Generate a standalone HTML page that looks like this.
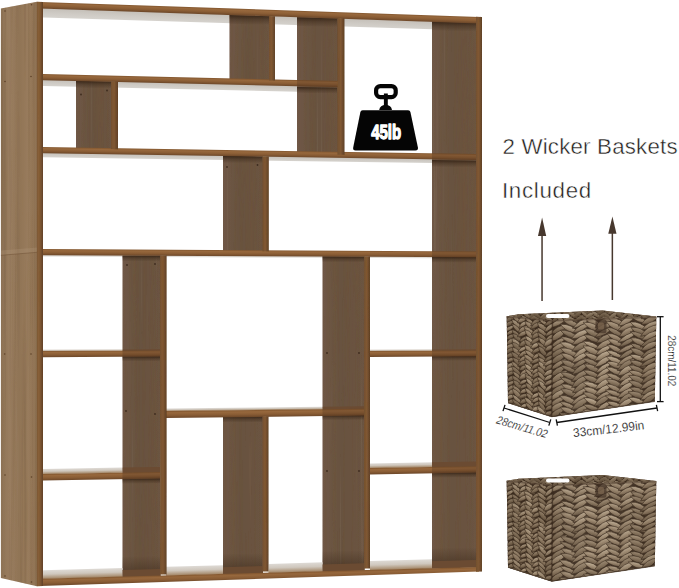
<!DOCTYPE html>
<html><head><meta charset="utf-8"><title>Bookshelf with 2 wicker baskets</title>
<style>
html,body{margin:0;padding:0;background:#fff;}
body{width:679px;height:588px;overflow:hidden;position:relative;font-family:"Liberation Sans",sans-serif;}
svg{position:absolute;left:0;top:0;display:block;}
.t{position:absolute;white-space:nowrap;color:#211c19;-webkit-text-stroke:0.42px #fff;font-family:"Liberation Sans",sans-serif;font-size:22.3px;line-height:1;transform-origin:0 0;}
</style></head><body>
<svg width="679" height="588" viewBox="0 0 679 588">
<defs>
<linearGradient id="gEdge" x1="0" y1="0" x2="1" y2="0"><stop offset="0" stop-color="#74502f"/><stop offset="0.45" stop-color="#815833"/><stop offset="1" stop-color="#5f4027"/></linearGradient>
<linearGradient id="gEdgeL" x1="0" y1="0" x2="1" y2="0"><stop offset="0" stop-color="#8d653c"/><stop offset="0.5" stop-color="#815934"/><stop offset="1" stop-color="#614128"/></linearGradient>
<linearGradient id="gEdgeH" x1="0" y1="0" x2="0" y2="1"><stop offset="0" stop-color="#82562e"/><stop offset="0.25" stop-color="#97683d"/><stop offset="0.6" stop-color="#8a5d35"/><stop offset="1" stop-color="#6c4729"/></linearGradient>
<linearGradient id="gDark" x1="0" y1="0" x2="1" y2="0"><stop offset="0" stop-color="#6f5846"/><stop offset="0.45" stop-color="#68523f"/><stop offset="1" stop-color="#6c5442"/></linearGradient>
<linearGradient id="gSide" x1="0" y1="0" x2="1" y2="0"><stop offset="0" stop-color="#8e7356"/><stop offset="0.25" stop-color="#997d5f"/><stop offset="0.5" stop-color="#907456"/><stop offset="0.75" stop-color="#987b5c"/><stop offset="1" stop-color="#8f7253"/></linearGradient>
<linearGradient id="gGray" x1="0" y1="0" x2="0" y2="1"><stop offset="0" stop-color="#c4bfb8"/><stop offset="0.5" stop-color="#ceCAc4"/><stop offset="1" stop-color="#d6d3ce"/></linearGradient>
<linearGradient id="gTop" x1="0" y1="0" x2="0" y2="1"><stop offset="0" stop-color="#dedad5"/><stop offset="0.45" stop-color="#cfc7bd"/><stop offset="1" stop-color="#a08261"/></linearGradient>
<linearGradient id="gShade" x1="0" y1="0" x2="0" y2="1"><stop offset="0" stop-color="#2c1b0e" stop-opacity="0.8"/><stop offset="0.45" stop-color="#2c1b0e" stop-opacity="0.35"/><stop offset="1" stop-color="#2c1b0e" stop-opacity="0"/></linearGradient>
<linearGradient id="gShadeUp" x1="0" y1="0" x2="0" y2="1"><stop offset="0" stop-color="#2c1b0e" stop-opacity="0"/><stop offset="1" stop-color="#2c1b0e" stop-opacity="0.35"/></linearGradient>
<linearGradient id="gBL" x1="0" y1="0" x2="1" y2="0"><stop offset="0" stop-color="#2a1d12" stop-opacity="0.18"/><stop offset="0.5" stop-color="#2a1d12" stop-opacity="0.02"/><stop offset="1" stop-color="#2a1d12" stop-opacity="0.15"/></linearGradient>
<linearGradient id="gBF" x1="0" y1="0" x2="1" y2="0"><stop offset="0" stop-color="#2a1d12" stop-opacity="0.12"/><stop offset="0.4" stop-color="#fff" stop-opacity="0.03"/><stop offset="1" stop-color="#2a1d12" stop-opacity="0.1"/></linearGradient>
<filter id="grainV" x="0" y="0" width="100%" height="100%" filterUnits="objectBoundingBox">
<feTurbulence type="fractalNoise" baseFrequency="0.3 0.003" numOctaves="3" seed="8" result="n"/>
<feColorMatrix in="n" type="matrix" values="0 0 0 0 0.16  0 0 0 0 0.09  0 0 0 0 0.04  1.0 0 0 0 -0.47" result="d"/>
<feComposite in="d" in2="SourceAlpha" operator="in" result="dk"/>
<feColorMatrix in="n" type="matrix" values="0 0 0 0 0.85  0 0 0 0 0.72  0 0 0 0 0.55  -0.2 0 0 0 0.06" result="l"/>
<feComposite in="l" in2="SourceAlpha" operator="in" result="lt"/>
<feMerge><feMergeNode in="SourceGraphic"/><feMergeNode in="dk"/><feMergeNode in="lt"/></feMerge>
</filter>

<linearGradient id="la1" x1="0.25" y1="0" x2="0.75" y2="1"><stop offset="0.15" stop-color="#b8a58b"/><stop offset="0.55" stop-color="#8d7961"/><stop offset="0.9" stop-color="#5f4c3a"/></linearGradient>
<linearGradient id="lb1" x1="0.75" y1="0" x2="0.25" y2="1"><stop offset="0.15" stop-color="#b8a58b"/><stop offset="0.55" stop-color="#8d7961"/><stop offset="0.9" stop-color="#5f4c3a"/></linearGradient>
<linearGradient id="la2" x1="0.25" y1="0" x2="0.75" y2="1"><stop offset="0.15" stop-color="#a5927a"/><stop offset="0.55" stop-color="#7e6b54"/><stop offset="0.9" stop-color="#564434"/></linearGradient>
<linearGradient id="lb2" x1="0.75" y1="0" x2="0.25" y2="1"><stop offset="0.15" stop-color="#a5927a"/><stop offset="0.55" stop-color="#7e6b54"/><stop offset="0.9" stop-color="#564434"/></linearGradient>
<linearGradient id="la3" x1="0.25" y1="0" x2="0.75" y2="1"><stop offset="0.15" stop-color="#c6b59c"/><stop offset="0.55" stop-color="#9a866d"/><stop offset="0.9" stop-color="#6a5743"/></linearGradient>
<linearGradient id="lb3" x1="0.75" y1="0" x2="0.25" y2="1"><stop offset="0.15" stop-color="#c6b59c"/><stop offset="0.55" stop-color="#9a866d"/><stop offset="0.9" stop-color="#6a5743"/></linearGradient>

</defs>
<rect width="679" height="588" fill="#fff"/>
<polygon points="43.00,8.10 432.50,8.10 432.50,15.85 43.00,17.50" fill="url(#gGray)" transform="matrix(1 0.03418 0 1 0 -1.4697)" />
<polygon points="43.00,79.50 297.00,79.50 297.00,85.83 43.00,86.00" fill="url(#gGray)" transform="matrix(1 0.02339 0 1 0 -1.0060)" />
<polygon points="43.00,152.50 432.50,152.50 432.50,157.01 43.00,157.20" fill="url(#gGray)" transform="matrix(1 0.01568 0 1 0 -0.6744)" />
<polygon points="43.00,254.50 432.50,254.50 432.50,256.32 43.00,256.40" fill="#dedbd6" transform="matrix(1 0.00491 0 1 0 -0.2112)" />
<g filter="url(#grainV)">
<polygon points="432.00,21.00 476.50,22.37 476.50,562.45 432.00,563.74" fill="url(#gDark)" />
<polygon points="229.50,14.75 269.50,15.99 269.50,81.38 229.50,80.43" fill="url(#gDark)" />
<polygon points="297.00,16.83 338.00,18.10 338.00,153.74 297.00,153.08" fill="url(#gDark)" />
<polygon points="76.00,80.77 111.50,81.60 111.50,150.10 76.00,149.53" fill="url(#gDark)" />
<polygon points="223.00,155.81 263.00,156.44 263.00,252.16 223.00,251.95" fill="url(#gDark)" />
<polygon points="122.50,255.39 160.50,255.57 160.50,576.54 122.50,577.66" fill="url(#gDark)" />
<polygon points="322.50,256.36 364.50,256.56 364.50,570.53 322.50,571.76" fill="url(#gDark)" />
<polygon points="223.00,414.79 263.00,414.30 263.00,573.52 223.00,574.70" fill="url(#gDark)" />
</g>
<polygon points="432.00,21.57 476.00,22.93 476.00,31.51 432.00,30.20" fill="url(#gShade)" />
<polygon points="229.50,15.05 269.00,16.26 269.00,25.05 229.50,23.87" fill="url(#gShade)" />
<polygon points="297.00,17.22 337.00,18.45 337.00,27.18 297.00,25.98" fill="url(#gShade)" />
<polygon points="76.00,80.77 111.00,81.59 111.00,88.54 76.00,87.75" fill="url(#gShade)" />
<polygon points="297.00,86.90 337.00,87.83 337.00,93.65 297.00,92.74" fill="url(#gShade)" />
<polygon points="223.00,155.81 262.50,156.43 262.50,163.27 223.00,162.68" fill="url(#gShade)" />
<polygon points="432.00,160.04 476.00,160.72 476.00,167.40 432.00,166.75" fill="url(#gShade)" />
<polygon points="122.50,255.39 160.00,255.57 160.00,261.49 122.50,261.34" fill="url(#gShade)" />
<polygon points="322.50,256.36 364.00,256.56 364.00,262.36 322.50,262.18" fill="url(#gShade)" />
<polygon points="432.00,256.89 476.00,257.10 476.00,262.83 432.00,262.64" fill="url(#gShade)" />
<polygon points="122.50,356.53 160.00,356.31 160.00,361.25 122.50,361.49" fill="url(#gShade)" />
<polygon points="432.00,356.14 476.00,355.87 476.00,360.64 432.00,360.93" fill="url(#gShade)" />
<polygon points="223.00,416.76 262.50,416.26 262.50,422.13 223.00,422.64" fill="url(#gShade)" />
<polygon points="322.50,415.52 364.00,415.00 364.00,419.83 322.50,420.37" fill="url(#gShade)" />
<polygon points="122.50,478.99 160.00,478.28 160.00,483.22 122.50,483.95" fill="url(#gShade)" />
<polygon points="432.00,473.13 476.00,472.29 476.00,477.06 432.00,477.92" fill="url(#gShade)" />
<polygon points="122.50,556.83 160.00,555.81 160.00,569.64 122.50,570.72" fill="url(#gShadeUp)" />
<polygon points="223.00,554.10 262.50,553.02 262.50,566.69 223.00,567.83" fill="url(#gShadeUp)" />
<polygon points="322.50,551.38 364.00,550.25 364.00,563.78 322.50,564.97" fill="url(#gShadeUp)" />
<polygon points="432.00,548.40 476.00,547.20 476.00,560.56 432.00,561.82" fill="url(#gShadeUp)" />
<polygon points="43.00,349.80 122.50,349.39 122.50,350.78 43.00,351.20" fill="#c9bfb3" />
<polygon points="122.50,349.39 160.00,349.20 160.00,350.58 122.50,350.78" fill="#6b4b32" />
<polygon points="370.00,349.85 432.00,349.52 432.00,350.86 370.00,351.20" fill="#c9bfb3" />
<polygon points="432.00,349.52 476.00,349.29 476.00,350.62 432.00,350.86" fill="#6b4b32" />
<polygon points="166.00,408.58 322.50,408.58 322.50,411.20 166.00,411.25" fill="url(#gTop)" transform="matrix(1 -0.01151 0 1 0 1.9111)" />
<polygon points="322.50,406.78 364.00,406.30 364.00,408.91 322.50,409.40" fill="#6b4b32" />
<polygon points="43.00,469.00 122.50,469.00 122.50,474.26 43.00,474.30" fill="url(#gTop)" transform="matrix(1 -0.01774 0 1 0 0.7630)" />
<polygon points="122.50,467.59 160.00,466.92 160.00,472.16 122.50,472.84" fill="#6b4b32" />
<polygon points="370.00,463.39 432.00,463.39 432.00,468.28 370.00,468.31" fill="url(#gTop)" transform="matrix(1 -0.01777 0 1 0 6.5731)" />
<polygon points="432.00,462.29 476.00,461.51 476.00,466.37 432.00,467.18" fill="#6b4b32" />
<polygon points="43.00,570.30 122.50,570.30 122.50,579.15 43.00,579.00" fill="url(#gTop)" transform="matrix(1 -0.02844 0 1 0 1.2231)" />
<polygon points="166.00,566.80 223.00,566.80 223.00,575.84 166.00,575.73" fill="url(#gTop)" transform="matrix(1 -0.02844 0 1 0 4.7216)" />
<polygon points="268.50,563.89 322.50,563.89 322.50,573.11 268.50,573.01" fill="url(#gTop)" transform="matrix(1 -0.02844 0 1 0 7.6370)" />
<polygon points="370.00,561.00 432.00,561.00 432.00,570.43 370.00,570.32" fill="url(#gTop)" transform="matrix(1 -0.02844 0 1 0 10.5240)" />
<polygon points="122.50,570.12 160.50,570.12 160.50,576.97 122.50,576.89" fill="#6b4b32" transform="matrix(1 -0.02866 0 1 0 3.5115)" />
<polygon points="223.00,567.24 263.00,567.24 263.00,574.30 223.00,574.22" fill="#6b4b32" transform="matrix(1 -0.02866 0 1 0 6.3923)" />
<polygon points="322.50,564.39 364.50,564.39 364.50,571.67 322.50,571.58" fill="#6b4b32" transform="matrix(1 -0.02866 0 1 0 9.2445)" />
<polygon points="432.00,561.25 476.50,561.25 476.50,568.76 432.00,568.67" fill="#6b4b32" transform="matrix(1 -0.02866 0 1 0 12.3833)" />
<polygon points="43.00,74.00 340.00,74.00 340.00,80.01 43.00,80.20" fill="url(#gEdgeH)" transform="matrix(1 0.02398 0 1 0 -1.0309)" />
<polygon points="43.00,147.00 476.00,147.00 476.00,152.92 43.00,153.20" fill="url(#gEdgeH)" transform="matrix(1 0.01627 0 1 0 -0.6994)" />
<polygon points="43.00,249.00 476.00,249.00 476.00,254.92 43.00,255.20" fill="url(#gEdgeH)" transform="matrix(1 0.00549 0 1 0 -0.2362)" />
<polygon points="43.00,351.00 160.00,351.00 160.00,357.12 43.00,357.20" fill="url(#gEdgeH)" transform="matrix(1 -0.00528 0 1 0 0.2271)" />
<polygon points="370.00,351.01 476.00,351.01 476.00,356.83 370.00,356.90" fill="url(#gEdgeH)" transform="matrix(1 -0.00547 0 1 0 2.0243)" />
<polygon points="166.00,411.05 364.00,411.05 364.00,417.91 166.00,418.06" fill="url(#gEdgeH)" transform="matrix(1 -0.01178 0 1 0 1.9549)" />
<polygon points="43.00,474.10 160.00,474.10 160.00,480.52 43.00,480.60" fill="url(#gEdgeH)" transform="matrix(1 -0.01828 0 1 0 0.7862)" />
<polygon points="370.00,468.12 476.00,468.12 476.00,474.32 370.00,474.40" fill="url(#gEdgeH)" transform="matrix(1 -0.01828 0 1 0 6.7646)" />
<polygon points="297.00,80.09 337.50,80.09 337.50,86.10 297.00,86.12" fill="rgba(44,27,14,0.2)" transform="matrix(1 0.02398 0 1 0 -7.1207)" />
<polygon points="432.00,153.33 476.00,153.33 476.00,159.24 432.00,159.27" fill="rgba(44,27,14,0.2)" transform="matrix(1 0.01627 0 1 0 -7.0266)" />
<polygon points="432.00,251.14 476.00,251.14 476.00,257.05 432.00,257.08" fill="rgba(44,27,14,0.2)" transform="matrix(1 0.00549 0 1 0 -2.3726)" />
<polygon points="122.50,350.58 160.00,350.58 160.00,356.70 122.50,356.73" fill="rgba(44,27,14,0.2)" transform="matrix(1 -0.00528 0 1 0 0.6469)" />
<polygon points="432.00,350.67 476.00,350.67 476.00,356.49 432.00,356.52" fill="rgba(44,27,14,0.2)" transform="matrix(1 -0.00547 0 1 0 2.3635)" />
<polygon points="322.50,409.21 364.00,409.21 364.00,416.07 322.50,416.10" fill="rgba(44,27,14,0.2)" transform="matrix(1 -0.01178 0 1 0 3.7979)" />
<polygon points="122.50,472.65 160.00,472.65 160.00,479.07 122.50,479.09" fill="rgba(44,27,14,0.2)" transform="matrix(1 -0.01828 0 1 0 2.2396)" />
<polygon points="432.00,466.99 476.00,466.99 476.00,473.19 432.00,473.22" fill="rgba(44,27,14,0.2)" transform="matrix(1 -0.01828 0 1 0 7.8981)" />
<polygon points="40.00,578.78 479.00,578.78 479.00,583.26 40.00,586.10" fill="url(#gEdgeH)" transform="matrix(1 -0.02656 0 1 0 1.0624)" />
<polygon points="40.00,1.90 479.00,1.90 479.00,8.51 40.00,8.50" fill="url(#gEdgeH)" transform="matrix(1 0.03416 0 1 0 -1.3663)" />
<g filter="url(#grainV)">
<polygon points="269.00,15.97 275.00,16.16 275.00,80.54 269.00,80.39" fill="url(#gEdge)" />
<polygon points="337.50,18.08 344.50,18.30 344.50,154.81 337.50,154.70" fill="url(#gEdge)" />
<polygon points="111.00,81.59 118.00,81.75 118.00,149.21 111.00,149.10" fill="url(#gEdge)" />
<polygon points="262.50,156.43 268.80,156.53 268.80,251.22 262.50,251.18" fill="url(#gEdge)" />
<polygon points="160.00,255.57 166.60,255.60 166.60,574.38 160.00,574.58" fill="url(#gEdge)" />
<polygon points="364.00,256.56 370.00,256.59 370.00,568.43 364.00,568.61" fill="url(#gEdge)" />
<polygon points="262.50,416.26 268.50,416.19 268.50,571.40 262.50,571.58" fill="url(#gEdge)" />
<polygon points="37.00,1.80 43.00,2.00 43.00,586.00 37.00,586.20" fill="url(#gEdgeL)" />
<polygon points="476.00,16.80 482.00,17.00 482.00,571.50 476.00,571.70" fill="url(#gEdge)" />
<polygon points="0.90,8.60 37.00,1.80 37.00,586.20 0.90,578.00" fill="url(#gSide)" />
</g>
<polygon points="0.9,250.5 37,247.5 37,252.3 0.9,255.3" fill="#b39a7e" opacity="0.28"/>
<line x1="0.9" y1="255.3" x2="37" y2="252.3" stroke="#6d4f33" stroke-width="0.8" opacity="0.6"/>
<line x1="37.2" y1="1.8" x2="37.2" y2="586.2" stroke="#6b4a2d" stroke-width="0.7" opacity="0.6"/>
<circle cx="5.0" cy="11.0" r="0.8" fill="#5f4229"/>
<circle cx="31.5" cy="4.8" r="0.8" fill="#5f4229"/>
<circle cx="5.0" cy="81.5" r="0.8" fill="#5f4229"/>
<circle cx="31.0" cy="76.5" r="0.8" fill="#5f4229"/>
<circle cx="4.7" cy="354.0" r="0.8" fill="#5f4229"/>
<circle cx="31.0" cy="354.0" r="0.8" fill="#5f4229"/>
<circle cx="5.0" cy="475.0" r="0.8" fill="#5f4229"/>
<circle cx="31.5" cy="477.0" r="0.8" fill="#5f4229"/>
<circle cx="5.0" cy="576.0" r="0.8" fill="#5f4229"/>
<circle cx="31.5" cy="582.0" r="0.8" fill="#5f4229"/>
<circle cx="81.0" cy="94.5" r="0.9" fill="#3e2c1f"/>
<circle cx="107.0" cy="90.5" r="0.9" fill="#3e2c1f"/>
<circle cx="227.0" cy="167.0" r="0.9" fill="#3e2c1f"/>
<circle cx="257.5" cy="165.0" r="0.9" fill="#3e2c1f"/>
<circle cx="127.0" cy="265.0" r="0.9" fill="#3e2c1f"/>
<circle cx="155.0" cy="264.0" r="0.9" fill="#3e2c1f"/>
<circle cx="126.0" cy="411.0" r="0.9" fill="#3e2c1f"/>
<circle cx="155.0" cy="414.0" r="0.9" fill="#3e2c1f"/>
<circle cx="327.0" cy="353.0" r="0.9" fill="#3e2c1f"/>
<circle cx="327.0" cy="471.0" r="0.9" fill="#3e2c1f"/>
<circle cx="359.0" cy="353.0" r="0.9" fill="#3e2c1f"/>
<circle cx="359.0" cy="471.0" r="0.9" fill="#3e2c1f"/>

<g>
<path d="M362.6 110.2 H408.2 Q410 110.2 410.4 112 L417.9 147.6 Q418.4 150.6 415.4 150.6 H355.6 Q352.6 150.6 353.2 147.6 L360.4 112 Q360.8 110.2 362.6 110.2 Z" fill="#050505"/>
<path d="M379.2 110 Q380 105.2 385.7 104.8 Q391.2 105.2 392 110 Z" fill="#050505"/>
<rect x="383.9" y="93.5" width="3.9" height="13" fill="#050505"/>
<rect x="376.1" y="86.1" width="19.6" height="11" rx="4.2" ry="4.2" fill="none" stroke="#050505" stroke-width="4.2"/>
<text x="0" y="0" transform="translate(386.2 138.7) scale(0.74 1)" text-anchor="middle" font-family="Liberation Sans, sans-serif" font-weight="bold" font-size="20.3" fill="#fff" stroke="#fff" stroke-width="1.3" stroke-linejoin="round">45lb</text>
</g>


<g fill="#47382e" stroke="none">
<rect x="541.3" y="232" width="1.5" height="69"/>
<polygon points="542.1,217.5 546.2,236 538,236"/>
<rect x="611.6" y="230" width="1.5" height="70"/>
<polygon points="612.4,216.5 616.5,233.8 608.3,233.8"/>
</g>

<clipPath id="bcL"><polygon points="506.70,316.30 552.60,320.40 551.80,417.00 508.00,403.00" fill="#000" /></clipPath>
<clipPath id="bcF"><polygon points="552.60,320.40 656.30,316.60 654.80,401.60 551.80,417.00" fill="#000" /></clipPath>
<clipPath id="bcB"><polygon points="506.70,316.30 519.00,314.20 602.50,310.40 656.30,316.60 552.60,320.40" fill="#000" /></clipPath>
<g id="bsk">
<polygon points="506.70,316.30 519.00,314.20 602.50,310.40 656.30,316.60 654.80,401.60 551.80,417.00 508.00,403.00" fill="#3f2f22" />
<g clip-path="url(#bcB)">
<path d="M505.1 311.2Q512.0 310.0 514.0 303.3Q507.1 304.4 505.1 311.2Z" fill="url(#la3)"/>
<path d="M503.7 314.6Q510.3 313.8 513.7 308.1Q507.2 309.0 503.7 314.6Z" fill="url(#la2)"/>
<path d="M503.7 318.9Q510.8 318.3 514.2 312.0Q507.1 312.6 503.7 318.9Z" fill="url(#la3)"/>
<path d="M505.3 323.3Q511.4 321.2 513.7 315.2Q507.6 317.3 505.3 323.3Z" fill="url(#la3)"/>
<path d="M503.5 326.5Q510.2 325.4 512.9 319.1Q506.2 320.2 503.5 326.5Z" fill="url(#la2)"/>
<path d="M510.4 302.8Q512.7 308.5 518.7 310.0Q516.3 304.4 510.4 302.8Z" fill="url(#lb3)"/>
<path d="M510.1 307.1Q512.8 314.2 520.2 315.6Q517.6 308.5 510.1 307.1Z" fill="url(#lb2)"/>
<path d="M509.8 311.2Q512.1 317.5 518.8 317.9Q516.5 311.6 509.8 311.2Z" fill="url(#lb3)"/>
<path d="M509.4 315.5Q511.8 321.6 518.4 322.0Q516.0 315.9 509.4 315.5Z" fill="url(#lb3)"/>
<path d="M509.6 320.9Q512.5 327.0 519.2 328.1Q516.3 321.9 509.6 320.9Z" fill="url(#lb2)"/>
<path d="M516.1 309.9Q522.6 308.9 525.4 303.0Q518.9 304.0 516.1 309.9Z" fill="url(#la2)"/>
<path d="M516.9 315.1Q522.7 313.0 524.3 307.0Q518.5 309.2 516.9 315.1Z" fill="url(#la2)"/>
<path d="M515.9 318.8Q522.8 317.5 525.4 311.1Q518.6 312.3 515.9 318.8Z" fill="url(#la2)"/>
<path d="M515.8 322.7Q521.8 322.1 524.8 316.9Q518.8 317.5 515.8 322.7Z" fill="url(#la2)"/>
<path d="M517.0 326.2Q522.7 326.4 524.4 321.0Q518.8 320.8 517.0 326.2Z" fill="url(#la3)"/>
<path d="M520.9 302.7Q523.9 308.9 530.7 309.5Q527.8 303.2 520.9 302.7Z" fill="url(#lb2)"/>
<path d="M521.6 306.7Q524.0 312.8 530.3 314.9Q527.8 308.8 521.6 306.7Z" fill="url(#lb3)"/>
<path d="M521.5 311.6Q524.7 318.0 531.8 318.8Q528.6 312.4 521.5 311.6Z" fill="url(#lb3)"/>
<path d="M521.2 315.2Q524.5 321.7 531.7 323.6Q528.3 317.0 521.2 315.2Z" fill="url(#lb3)"/>
<path d="M521.1 320.3Q524.2 326.5 531.0 327.5Q527.9 321.3 521.1 320.3Z" fill="url(#lb2)"/>
<path d="M527.8 310.3Q534.5 309.1 535.9 302.5Q529.1 303.6 527.8 310.3Z" fill="url(#la3)"/>
<path d="M528.1 314.4Q534.2 314.1 536.5 308.4Q530.4 308.7 528.1 314.4Z" fill="url(#la2)"/>
<path d="M528.5 319.7Q534.8 318.1 535.9 311.7Q529.6 313.3 528.5 319.7Z" fill="url(#la2)"/>
<path d="M527.2 323.8Q533.8 321.5 536.1 314.9Q529.5 317.2 527.2 323.8Z" fill="url(#la2)"/>
<path d="M527.1 326.2Q533.8 326.4 536.2 320.1Q529.5 319.9 527.1 326.2Z" fill="url(#la3)"/>
<path d="M533.1 304.2Q536.4 310.4 543.4 310.8Q540.2 304.5 533.1 304.2Z" fill="url(#lb2)"/>
<path d="M533.6 308.4Q536.3 313.9 542.4 314.3Q539.7 308.8 533.6 308.4Z" fill="url(#lb2)"/>
<path d="M532.5 312.0Q535.6 318.1 542.4 319.3Q539.3 313.1 532.5 312.0Z" fill="url(#lb2)"/>
<path d="M532.6 316.0Q535.6 322.7 542.9 323.8Q539.9 317.0 532.6 316.0Z" fill="url(#lb2)"/>
<path d="M534.0 320.9Q535.7 327.1 542.2 327.5Q540.5 321.2 534.0 320.9Z" fill="url(#lb2)"/>
<path d="M540.1 309.5Q546.5 308.6 548.3 302.4Q541.9 303.3 540.1 309.5Z" fill="url(#la3)"/>
<path d="M539.4 314.8Q546.0 314.3 547.4 307.8Q540.8 308.4 539.4 314.8Z" fill="url(#la3)"/>
<path d="M539.7 318.6Q546.1 317.8 548.8 311.9Q542.3 312.6 539.7 318.6Z" fill="url(#la3)"/>
<path d="M539.3 323.0Q545.4 321.0 547.9 315.1Q541.7 317.0 539.3 323.0Z" fill="url(#la2)"/>
<path d="M539.2 327.4Q545.9 325.6 549.1 319.6Q542.5 321.3 539.2 327.4Z" fill="url(#la2)"/>
<path d="M544.3 303.6Q547.3 309.8 554.1 311.0Q551.1 304.8 544.3 303.6Z" fill="url(#lb3)"/>
<path d="M545.0 307.0Q547.3 313.3 553.9 314.1Q551.6 307.9 545.0 307.0Z" fill="url(#lb3)"/>
<path d="M545.8 311.5Q548.2 317.2 554.3 318.4Q551.8 312.7 545.8 311.5Z" fill="url(#lb2)"/>
<path d="M544.7 316.7Q546.8 322.6 553.2 322.1Q551.0 316.1 544.7 316.7Z" fill="url(#lb3)"/>
<path d="M544.3 320.0Q547.7 326.4 554.9 327.8Q551.5 321.3 544.3 320.0Z" fill="url(#lb2)"/>
<path d="M551.2 310.9Q557.8 309.7 560.6 303.6Q554.0 304.8 551.2 310.9Z" fill="url(#la3)"/>
<path d="M550.4 314.8Q557.3 313.4 560.3 307.1Q553.4 308.5 550.4 314.8Z" fill="url(#la2)"/>
<path d="M551.1 318.6Q557.1 317.8 559.3 312.2Q553.3 313.0 551.1 318.6Z" fill="url(#la2)"/>
<path d="M551.4 323.9Q557.8 321.7 559.1 315.1Q552.7 317.3 551.4 323.9Z" fill="url(#la2)"/>
<path d="M551.8 327.5Q557.6 325.8 559.3 320.0Q553.5 321.7 551.8 327.5Z" fill="url(#la3)"/>
<path d="M557.2 303.4Q558.6 309.5 564.8 309.9Q563.3 303.9 557.2 303.4Z" fill="url(#lb2)"/>
<path d="M556.4 308.1Q559.6 314.3 566.5 313.8Q563.4 307.6 556.4 308.1Z" fill="url(#lb2)"/>
<path d="M555.9 311.6Q559.0 318.1 566.0 319.6Q562.9 313.1 555.9 311.6Z" fill="url(#lb3)"/>
<path d="M556.6 316.2Q558.5 322.6 565.1 323.4Q563.2 317.0 556.6 316.2Z" fill="url(#lb3)"/>
<path d="M556.1 320.8Q559.5 327.2 566.7 328.1Q563.3 321.7 556.1 320.8Z" fill="url(#lb2)"/>
<path d="M562.0 310.9Q568.1 309.2 570.5 303.4Q564.4 305.1 562.0 310.9Z" fill="url(#la3)"/>
<path d="M562.6 315.2Q569.6 313.5 571.5 306.6Q564.5 308.2 562.6 315.2Z" fill="url(#la3)"/>
<path d="M562.3 317.9Q569.0 318.2 571.6 312.1Q564.9 311.7 562.3 317.9Z" fill="url(#la2)"/>
<path d="M561.7 323.0Q568.7 322.8 572.0 316.6Q565.0 316.8 561.7 323.0Z" fill="url(#la3)"/>
<path d="M562.6 327.5Q569.4 326.3 572.0 319.9Q565.2 321.1 562.6 327.5Z" fill="url(#la3)"/>
<path d="M568.3 304.1Q571.1 309.7 577.4 310.1Q574.6 304.4 568.3 304.1Z" fill="url(#lb2)"/>
<path d="M567.9 306.8Q570.6 313.1 577.4 314.2Q574.7 307.9 567.9 306.8Z" fill="url(#lb2)"/>
<path d="M568.3 311.7Q570.8 318.0 577.5 317.8Q575.1 311.6 568.3 311.7Z" fill="url(#lb3)"/>
<path d="M568.3 316.9Q570.9 322.0 576.6 322.1Q574.0 317.0 568.3 316.9Z" fill="url(#lb3)"/>
<path d="M568.1 321.0Q571.5 326.7 578.2 326.7Q574.7 321.0 568.1 321.0Z" fill="url(#lb3)"/>
<path d="M573.7 311.3Q580.8 310.5 584.0 304.2Q577.0 305.0 573.7 311.3Z" fill="url(#la2)"/>
<path d="M573.4 314.9Q580.9 313.7 584.0 306.8Q576.5 307.9 573.4 314.9Z" fill="url(#la2)"/>
<path d="M573.1 318.1Q579.8 317.5 582.1 311.3Q575.5 311.8 573.1 318.1Z" fill="url(#la2)"/>
<path d="M574.3 322.2Q581.0 321.3 583.6 315.1Q576.9 316.0 574.3 322.2Z" fill="url(#la2)"/>
<path d="M574.5 327.5Q581.5 325.9 583.9 319.1Q576.9 320.7 574.5 327.5Z" fill="url(#la3)"/>
<path d="M580.0 304.1Q582.9 309.5 589.0 309.9Q586.1 304.5 580.0 304.1Z" fill="url(#lb2)"/>
<path d="M579.3 308.0Q582.6 314.2 589.6 315.4Q586.3 309.2 579.3 308.0Z" fill="url(#lb2)"/>
<path d="M580.7 311.1Q583.3 316.9 589.5 318.2Q586.8 312.4 580.7 311.1Z" fill="url(#lb3)"/>
<path d="M579.1 315.1Q581.5 321.9 588.7 322.8Q586.3 316.0 579.1 315.1Z" fill="url(#lb2)"/>
<path d="M579.3 320.3Q582.7 326.2 589.5 326.3Q586.1 320.4 579.3 320.3Z" fill="url(#lb2)"/>
<path d="M586.5 311.4Q592.9 309.9 594.0 303.4Q587.6 304.9 586.5 311.4Z" fill="url(#la3)"/>
<path d="M586.3 314.6Q592.3 313.9 593.8 308.1Q587.8 308.7 586.3 314.6Z" fill="url(#la2)"/>
<path d="M585.0 318.2Q591.6 318.6 594.1 312.4Q587.5 312.0 585.0 318.2Z" fill="url(#la3)"/>
<path d="M585.8 322.2Q592.2 320.9 595.1 315.0Q588.7 316.4 585.8 322.2Z" fill="url(#la2)"/>
<path d="M585.6 327.2Q591.8 325.9 594.6 320.2Q588.4 321.5 585.6 327.2Z" fill="url(#la3)"/>
<path d="M592.2 302.7Q594.1 309.1 600.5 310.9Q598.6 304.6 592.2 302.7Z" fill="url(#lb2)"/>
<path d="M591.7 306.7Q594.7 312.7 601.1 314.3Q598.2 308.3 591.7 306.7Z" fill="url(#lb2)"/>
<path d="M591.6 311.1Q593.9 317.6 600.7 318.5Q598.5 312.0 591.6 311.1Z" fill="url(#lb3)"/>
<path d="M592.3 316.4Q594.7 322.5 601.1 323.6Q598.7 317.5 592.3 316.4Z" fill="url(#lb3)"/>
<path d="M592.2 320.4Q594.6 326.5 601.1 327.7Q598.7 321.6 592.2 320.4Z" fill="url(#lb3)"/>
<path d="M596.4 310.1Q603.3 308.7 606.3 302.4Q599.4 303.8 596.4 310.1Z" fill="url(#la2)"/>
<path d="M596.8 315.5Q604.0 314.1 606.7 307.2Q599.5 308.7 596.8 315.5Z" fill="url(#la2)"/>
<path d="M597.4 318.6Q604.3 318.3 607.4 312.0Q600.4 312.3 597.4 318.6Z" fill="url(#la2)"/>
<path d="M598.3 322.0Q604.1 321.7 606.6 316.4Q600.7 316.7 598.3 322.0Z" fill="url(#la3)"/>
<path d="M597.3 327.6Q604.0 325.6 606.7 319.1Q599.9 321.1 597.3 327.6Z" fill="url(#la3)"/>
<path d="M603.9 303.5Q605.7 309.9 612.2 311.4Q610.4 305.0 603.9 303.5Z" fill="url(#lb3)"/>
<path d="M603.4 308.2Q605.0 314.3 611.3 314.8Q609.7 308.7 603.4 308.2Z" fill="url(#lb2)"/>
<path d="M602.9 312.6Q605.1 319.1 611.9 319.7Q609.7 313.2 602.9 312.6Z" fill="url(#lb2)"/>
<path d="M603.0 315.9Q605.4 321.7 611.7 322.8Q609.3 316.9 603.0 315.9Z" fill="url(#lb2)"/>
<path d="M603.1 319.6Q605.8 326.3 613.0 327.5Q610.3 320.7 603.1 319.6Z" fill="url(#lb3)"/>
<path d="M607.9 309.9Q614.8 309.1 617.1 302.7Q610.2 303.5 607.9 309.9Z" fill="url(#la2)"/>
<path d="M608.0 314.3Q614.9 314.0 617.8 307.7Q610.9 308.0 608.0 314.3Z" fill="url(#la3)"/>
<path d="M608.1 319.6Q615.4 318.6 617.8 311.7Q610.5 312.6 608.1 319.6Z" fill="url(#la3)"/>
<path d="M608.0 322.2Q614.6 322.0 618.6 316.7Q612.0 316.9 608.0 322.2Z" fill="url(#la2)"/>
<path d="M609.1 326.4Q615.4 325.6 618.2 320.0Q612.0 320.7 609.1 326.4Z" fill="url(#la2)"/>
<path d="M614.4 302.7Q617.0 308.8 623.5 309.7Q620.9 303.7 614.4 302.7Z" fill="url(#lb2)"/>
<path d="M615.0 307.9Q616.9 314.3 623.5 315.1Q621.6 308.7 615.0 307.9Z" fill="url(#lb3)"/>
<path d="M615.6 312.2Q617.1 318.1 623.3 318.0Q621.7 312.1 615.6 312.2Z" fill="url(#lb2)"/>
<path d="M614.3 316.1Q617.5 322.1 624.2 323.4Q621.0 317.3 614.3 316.1Z" fill="url(#lb3)"/>
<path d="M615.2 319.4Q616.5 326.3 623.3 328.1Q622.0 321.2 615.2 319.4Z" fill="url(#lb3)"/>
<path d="M620.8 309.5Q626.7 308.1 629.1 302.4Q623.2 303.8 620.8 309.5Z" fill="url(#la2)"/>
<path d="M620.6 313.8Q626.7 313.6 628.8 307.9Q622.7 308.1 620.6 313.8Z" fill="url(#la2)"/>
<path d="M620.5 318.5Q626.6 317.4 629.3 311.7Q623.1 312.8 620.5 318.5Z" fill="url(#la3)"/>
<path d="M621.1 322.9Q627.8 322.7 630.2 316.6Q623.6 316.7 621.1 322.9Z" fill="url(#la2)"/>
<path d="M620.4 326.6Q627.3 326.1 630.2 319.8Q623.3 320.3 620.4 326.6Z" fill="url(#la3)"/>
<path d="M625.9 303.9Q629.2 309.9 636.0 309.8Q632.8 303.8 625.9 303.9Z" fill="url(#lb3)"/>
<path d="M626.3 307.2Q628.8 313.5 635.5 314.5Q633.0 308.2 626.3 307.2Z" fill="url(#lb2)"/>
<path d="M625.9 312.3Q628.2 318.1 634.5 318.2Q632.2 312.4 625.9 312.3Z" fill="url(#lb3)"/>
<path d="M626.7 315.9Q629.1 322.3 635.9 322.6Q633.6 316.2 626.7 315.9Z" fill="url(#lb2)"/>
<path d="M626.1 320.5Q628.7 326.4 635.1 326.4Q632.5 320.4 626.1 320.5Z" fill="url(#lb2)"/>
<path d="M632.0 311.1Q638.6 309.4 640.8 303.0Q634.3 304.7 632.0 311.1Z" fill="url(#la3)"/>
<path d="M631.3 315.3Q638.0 314.2 640.3 307.9Q633.6 309.0 631.3 315.3Z" fill="url(#la2)"/>
<path d="M632.6 318.5Q639.1 317.3 641.0 311.0Q634.5 312.2 632.6 318.5Z" fill="url(#la2)"/>
<path d="M631.5 323.5Q638.4 321.6 642.0 315.4Q635.1 317.3 631.5 323.5Z" fill="url(#la2)"/>
<path d="M632.2 327.3Q639.3 326.8 642.1 320.3Q635.1 320.8 632.2 327.3Z" fill="url(#la2)"/>
<path d="M638.1 303.0Q640.7 308.9 647.1 310.1Q644.5 304.2 638.1 303.0Z" fill="url(#lb2)"/>
<path d="M638.7 306.7Q640.7 313.1 647.3 313.9Q645.3 307.6 638.7 306.7Z" fill="url(#lb2)"/>
<path d="M637.4 311.1Q640.3 317.9 647.5 318.8Q644.7 312.1 637.4 311.1Z" fill="url(#lb3)"/>
<path d="M637.7 316.5Q640.4 322.1 646.7 322.2Q643.9 316.6 637.7 316.5Z" fill="url(#lb3)"/>
<path d="M638.4 320.9Q640.4 327.0 646.8 327.8Q644.8 321.6 638.4 320.9Z" fill="url(#lb2)"/>
<path d="M644.4 311.1Q651.1 310.5 653.6 304.3Q646.9 304.9 644.4 311.1Z" fill="url(#la2)"/>
<path d="M644.2 315.2Q650.4 313.4 652.7 307.4Q646.5 309.2 644.2 315.2Z" fill="url(#la3)"/>
<path d="M644.7 318.5Q650.7 317.1 652.2 311.1Q646.2 312.6 644.7 318.5Z" fill="url(#la2)"/>
<path d="M643.3 323.7Q649.9 322.5 652.8 316.3Q646.1 317.6 643.3 323.7Z" fill="url(#la3)"/>
<path d="M644.3 326.5Q650.3 325.8 651.9 320.0Q645.9 320.6 644.3 326.5Z" fill="url(#la2)"/>
<path d="M649.2 302.8Q651.5 309.3 658.3 310.6Q656.0 304.1 649.2 302.8Z" fill="url(#lb2)"/>
<path d="M649.8 307.0Q652.0 312.8 658.0 314.2Q655.8 308.4 649.8 307.0Z" fill="url(#lb3)"/>
<path d="M649.8 312.6Q652.3 318.7 658.7 319.5Q656.3 313.4 649.8 312.6Z" fill="url(#lb3)"/>
<path d="M650.4 315.6Q652.2 322.0 658.7 323.9Q656.9 317.4 650.4 315.6Z" fill="url(#lb3)"/>
<path d="M649.4 319.5Q650.9 326.4 657.9 327.7Q656.3 320.8 649.4 319.5Z" fill="url(#lb2)"/>
<polygon points="506.70,316.30 519.00,314.20 602.50,310.40 656.30,316.60 552.60,320.40" fill="#2a1c10" opacity="0.28"/>
</g>
<g clip-path="url(#bcL)" stroke="#35261a" stroke-width="0.55">
<path d="M505.4 318.3Q512.9 319.0 514.1 311.6Q506.7 310.9 505.4 318.3Z" fill="url(#la3)"/>
<path d="M505.8 322.2Q513.3 322.7 514.6 315.3Q507.0 314.7 505.8 322.2Z" fill="url(#la2)"/>
<path d="M504.3 326.5Q511.7 327.6 514.6 320.8Q507.3 319.7 504.3 326.5Z" fill="url(#la2)"/>
<path d="M504.6 331.4Q511.5 331.5 514.5 325.3Q507.6 325.2 504.6 331.4Z" fill="url(#la3)"/>
<path d="M505.8 335.1Q512.2 335.8 514.8 329.8Q508.4 329.1 505.8 335.1Z" fill="url(#la1)"/>
<path d="M505.6 339.6Q512.8 340.8 515.8 334.1Q508.6 332.9 505.6 339.6Z" fill="url(#la2)"/>
<path d="M505.9 344.8Q513.8 345.5 516.2 337.9Q508.2 337.2 505.9 344.8Z" fill="url(#la1)"/>
<path d="M504.5 349.3Q512.1 351.5 515.4 344.3Q507.7 342.1 504.5 349.3Z" fill="url(#la1)"/>
<path d="M505.1 353.2Q512.3 354.9 515.0 348.0Q507.8 346.3 505.1 353.2Z" fill="url(#la2)"/>
<path d="M504.7 357.9Q512.2 359.9 515.8 353.0Q508.3 351.0 504.7 357.9Z" fill="url(#la2)"/>
<path d="M505.9 362.2Q512.3 363.6 515.3 357.8Q508.9 356.3 505.9 362.2Z" fill="url(#la1)"/>
<path d="M504.9 368.2Q512.7 369.8 516.3 362.7Q508.5 361.1 504.9 368.2Z" fill="url(#la3)"/>
<path d="M505.1 372.5Q513.0 374.6 516.5 367.2Q508.6 365.1 505.1 372.5Z" fill="url(#la3)"/>
<path d="M505.9 375.9Q512.3 376.9 515.0 371.1Q508.7 370.1 505.9 375.9Z" fill="url(#la2)"/>
<path d="M506.8 381.4Q514.1 382.8 516.2 375.6Q508.8 374.3 506.8 381.4Z" fill="url(#la2)"/>
<path d="M505.2 386.1Q512.0 387.0 515.0 380.9Q508.2 380.0 505.2 386.1Z" fill="url(#la1)"/>
<path d="M505.9 391.1Q513.1 391.2 516.0 384.5Q508.7 384.4 505.9 391.1Z" fill="url(#la1)"/>
<path d="M507.1 394.8Q514.2 396.6 516.4 389.6Q509.3 387.9 507.1 394.8Z" fill="url(#la1)"/>
<path d="M505.5 398.9Q512.0 401.1 515.2 395.0Q508.7 392.8 505.5 398.9Z" fill="url(#la3)"/>
<path d="M506.5 404.5Q513.8 406.0 516.2 398.9Q508.9 397.4 506.5 404.5Z" fill="url(#la2)"/>
<path d="M506.7 408.8Q513.1 409.8 515.0 403.6Q508.6 402.6 506.7 408.8Z" fill="url(#la1)"/>
<path d="M510.6 310.2Q512.8 318.8 521.7 319.9Q519.4 311.3 510.6 310.2Z" fill="url(#lb2)"/>
<path d="M511.8 314.6Q514.1 322.1 521.8 323.6Q519.5 316.1 511.8 314.6Z" fill="url(#lb3)"/>
<path d="M511.5 319.0Q513.6 327.6 522.2 329.7Q520.0 321.2 511.5 319.0Z" fill="url(#lb3)"/>
<path d="M511.7 323.4Q514.1 331.4 522.1 334.0Q519.7 326.0 511.7 323.4Z" fill="url(#lb1)"/>
<path d="M511.7 329.4Q513.6 337.2 521.4 339.1Q519.6 331.2 511.7 329.4Z" fill="url(#lb2)"/>
<path d="M512.4 333.5Q514.3 341.4 522.3 342.4Q520.4 334.5 512.4 333.5Z" fill="url(#lb2)"/>
<path d="M511.8 338.3Q512.7 347.0 521.4 348.5Q520.4 339.8 511.8 338.3Z" fill="url(#lb3)"/>
<path d="M511.9 342.1Q513.7 350.8 522.5 352.0Q520.8 343.3 511.9 342.1Z" fill="url(#lb2)"/>
<path d="M512.3 347.1Q513.0 355.5 521.3 357.4Q520.5 349.0 512.3 347.1Z" fill="url(#lb1)"/>
<path d="M510.9 351.4Q513.7 360.5 522.9 362.8Q520.2 353.6 510.9 351.4Z" fill="url(#lb2)"/>
<path d="M512.4 357.4Q514.4 365.6 522.8 366.9Q520.8 358.6 512.4 357.4Z" fill="url(#lb2)"/>
<path d="M511.3 361.1Q513.4 368.9 521.1 371.4Q519.0 363.6 511.3 361.1Z" fill="url(#lb1)"/>
<path d="M511.4 365.9Q513.5 374.0 521.6 376.2Q519.5 368.1 511.4 365.9Z" fill="url(#lb2)"/>
<path d="M512.5 371.1Q514.4 378.6 521.9 380.8Q520.0 373.3 512.5 371.1Z" fill="url(#lb1)"/>
<path d="M512.0 375.4Q513.7 384.2 522.5 386.1Q520.7 377.3 512.0 375.4Z" fill="url(#lb2)"/>
<path d="M513.0 379.7Q514.3 388.5 523.0 390.7Q521.7 381.8 513.0 379.7Z" fill="url(#lb2)"/>
<path d="M512.4 385.2Q514.2 393.2 522.2 395.1Q520.4 387.0 512.4 385.2Z" fill="url(#lb1)"/>
<path d="M512.0 388.1Q513.6 397.5 522.7 400.6Q521.0 391.2 512.0 388.1Z" fill="url(#lb1)"/>
<path d="M512.0 394.2Q514.6 402.6 523.0 405.2Q520.4 396.8 512.0 394.2Z" fill="url(#lb3)"/>
<path d="M511.9 399.0Q515.0 406.9 523.2 409.2Q520.1 401.2 511.9 399.0Z" fill="url(#lb2)"/>
<path d="M512.6 403.1Q514.0 412.5 523.2 414.7Q521.8 405.3 512.6 403.1Z" fill="url(#lb1)"/>
<path d="M518.7 318.8Q526.7 318.9 528.8 311.2Q520.8 311.1 518.7 318.8Z" fill="url(#la2)"/>
<path d="M517.3 322.8Q525.5 323.6 528.2 315.8Q520.0 315.0 517.3 322.8Z" fill="url(#la3)"/>
<path d="M519.0 327.3Q525.8 327.5 527.7 320.9Q520.9 320.7 519.0 327.3Z" fill="url(#la3)"/>
<path d="M518.0 332.9Q526.0 333.1 528.3 325.4Q520.3 325.3 518.0 332.9Z" fill="url(#la1)"/>
<path d="M517.2 336.8Q525.2 337.6 529.0 330.6Q521.1 329.7 517.2 336.8Z" fill="url(#la1)"/>
<path d="M519.0 341.8Q525.8 342.3 529.0 336.2Q522.1 335.7 519.0 341.8Z" fill="url(#la2)"/>
<path d="M518.9 346.8Q526.6 347.5 528.2 339.9Q520.5 339.3 518.9 346.8Z" fill="url(#la2)"/>
<path d="M517.7 352.1Q524.6 352.3 527.7 346.1Q520.8 345.9 517.7 352.1Z" fill="url(#la3)"/>
<path d="M517.9 357.1Q526.0 357.1 529.2 349.7Q521.2 349.8 517.9 357.1Z" fill="url(#la1)"/>
<path d="M518.0 362.1Q525.7 361.7 528.9 354.8Q521.3 355.2 518.0 362.1Z" fill="url(#la1)"/>
<path d="M517.6 366.2Q525.0 367.1 527.9 360.2Q520.5 359.4 517.6 366.2Z" fill="url(#la2)"/>
<path d="M519.0 370.3Q526.0 372.0 528.7 365.4Q521.8 363.7 519.0 370.3Z" fill="url(#la2)"/>
<path d="M519.4 376.0Q526.1 375.4 527.7 368.9Q521.1 369.5 519.4 376.0Z" fill="url(#la1)"/>
<path d="M518.5 379.1Q526.3 380.8 529.2 373.4Q521.4 371.7 518.5 379.1Z" fill="url(#la1)"/>
<path d="M518.8 384.2Q525.0 385.3 527.9 379.6Q521.6 378.5 518.8 384.2Z" fill="url(#la1)"/>
<path d="M519.6 388.7Q525.4 389.8 527.8 384.3Q521.9 383.2 519.6 388.7Z" fill="url(#la2)"/>
<path d="M519.6 393.1Q525.8 395.0 528.4 389.1Q522.2 387.2 519.6 393.1Z" fill="url(#la1)"/>
<path d="M517.8 397.8Q524.7 400.1 529.0 394.3Q522.1 392.1 517.8 397.8Z" fill="url(#la2)"/>
<path d="M519.3 403.4Q526.0 405.5 528.5 399.0Q521.8 396.9 519.3 403.4Z" fill="url(#la2)"/>
<path d="M519.3 408.1Q525.7 409.4 528.7 403.6Q522.3 402.4 519.3 408.1Z" fill="url(#la3)"/>
<path d="M518.3 412.7Q525.5 415.2 529.1 408.5Q521.9 405.9 518.3 412.7Z" fill="url(#la2)"/>
<path d="M524.0 311.5Q527.2 319.3 535.5 320.7Q532.3 312.9 524.0 311.5Z" fill="url(#lb1)"/>
<path d="M524.7 316.7Q527.1 324.3 534.9 326.1Q532.5 318.5 524.7 316.7Z" fill="url(#lb1)"/>
<path d="M524.8 321.2Q526.9 329.4 535.4 330.3Q533.2 322.1 524.8 321.2Z" fill="url(#lb1)"/>
<path d="M523.7 326.6Q526.3 334.8 534.9 335.2Q532.4 327.0 523.7 326.6Z" fill="url(#lb1)"/>
<path d="M524.8 329.6Q526.0 338.4 534.6 340.4Q533.4 331.7 524.8 329.6Z" fill="url(#lb1)"/>
<path d="M525.2 335.8Q526.8 343.7 534.8 345.2Q533.1 337.3 525.2 335.8Z" fill="url(#lb3)"/>
<path d="M524.2 339.4Q526.1 348.4 535.2 350.5Q533.2 341.4 524.2 339.4Z" fill="url(#lb2)"/>
<path d="M524.3 344.8Q526.1 353.7 535.2 355.1Q533.3 346.1 524.3 344.8Z" fill="url(#lb1)"/>
<path d="M524.7 350.1Q527.5 357.9 535.7 358.9Q533.0 351.0 524.7 350.1Z" fill="url(#lb1)"/>
<path d="M523.7 354.2Q526.3 362.4 534.8 363.6Q532.3 355.4 523.7 354.2Z" fill="url(#lb1)"/>
<path d="M524.6 358.3Q525.3 367.3 533.8 370.3Q533.1 361.3 524.6 358.3Z" fill="url(#lb2)"/>
<path d="M524.2 363.4Q526.5 371.7 534.9 373.7Q532.6 365.4 524.2 363.4Z" fill="url(#lb3)"/>
<path d="M524.5 368.3Q527.5 376.5 535.7 379.3Q532.8 371.1 524.5 368.3Z" fill="url(#lb1)"/>
<path d="M525.0 374.4Q526.6 383.0 535.3 384.1Q533.7 375.5 525.0 374.4Z" fill="url(#lb2)"/>
<path d="M525.7 377.5Q527.5 386.2 535.5 389.7Q533.7 381.1 525.7 377.5Z" fill="url(#lb3)"/>
<path d="M525.4 382.4Q526.5 390.7 534.5 393.1Q533.5 384.8 525.4 382.4Z" fill="url(#lb2)"/>
<path d="M524.9 387.5Q526.6 396.2 535.0 399.1Q533.3 390.4 524.9 387.5Z" fill="url(#lb1)"/>
<path d="M525.9 392.8Q527.6 400.8 535.5 402.9Q533.8 394.9 525.9 392.8Z" fill="url(#lb2)"/>
<path d="M524.1 396.8Q526.6 405.9 535.7 408.6Q533.1 399.5 524.1 396.8Z" fill="url(#lb1)"/>
<path d="M525.0 402.1Q527.3 410.1 535.1 412.7Q532.8 404.8 525.0 402.1Z" fill="url(#lb2)"/>
<path d="M524.3 407.6Q525.8 416.4 534.5 418.7Q533.0 409.9 524.3 407.6Z" fill="url(#lb1)"/>
<path d="M530.1 319.8Q538.6 320.0 541.1 311.9Q532.6 311.7 530.1 319.8Z" fill="url(#la1)"/>
<path d="M530.6 325.8Q539.0 325.2 541.7 317.3Q533.3 317.8 530.6 325.8Z" fill="url(#la2)"/>
<path d="M530.2 329.2Q538.2 328.9 541.5 321.7Q533.5 321.9 530.2 329.2Z" fill="url(#la2)"/>
<path d="M531.1 335.1Q538.7 334.8 541.3 327.7Q533.8 328.0 531.1 335.1Z" fill="url(#la2)"/>
<path d="M531.5 338.8Q538.9 339.4 540.7 332.1Q533.2 331.6 531.5 338.8Z" fill="url(#la2)"/>
<path d="M530.4 344.4Q538.2 344.0 541.0 336.7Q533.2 337.1 530.4 344.4Z" fill="url(#la2)"/>
<path d="M530.6 348.3Q537.7 349.5 540.3 342.7Q533.2 341.5 530.6 348.3Z" fill="url(#la3)"/>
<path d="M531.5 353.2Q538.7 354.1 541.9 347.5Q534.7 346.6 531.5 353.2Z" fill="url(#la2)"/>
<path d="M532.1 359.6Q538.8 359.1 540.7 352.6Q534.0 353.2 532.1 359.6Z" fill="url(#la1)"/>
<path d="M530.4 363.7Q537.7 364.6 541.2 358.2Q533.9 357.3 530.4 363.7Z" fill="url(#la2)"/>
<path d="M530.6 369.4Q538.0 369.6 540.6 362.8Q533.3 362.6 530.6 369.4Z" fill="url(#la2)"/>
<path d="M531.2 373.9Q538.8 374.7 542.0 367.8Q534.4 367.0 531.2 373.9Z" fill="url(#la1)"/>
<path d="M531.6 378.4Q539.1 378.3 541.6 371.2Q534.1 371.3 531.6 378.4Z" fill="url(#la2)"/>
<path d="M532.0 383.9Q539.5 384.3 540.7 376.9Q533.2 376.5 532.0 383.9Z" fill="url(#la2)"/>
<path d="M531.2 387.6Q538.3 387.9 540.6 381.1Q533.5 380.9 531.2 387.6Z" fill="url(#la2)"/>
<path d="M531.4 392.3Q538.6 393.2 541.5 386.4Q534.2 385.5 531.4 392.3Z" fill="url(#la2)"/>
<path d="M530.9 398.4Q537.7 398.8 540.2 392.4Q533.4 392.0 530.9 398.4Z" fill="url(#la3)"/>
<path d="M531.5 402.7Q538.4 403.2 540.9 396.8Q534.0 396.3 531.5 402.7Z" fill="url(#la1)"/>
<path d="M532.0 407.1Q539.0 407.3 541.9 401.0Q534.9 400.7 532.0 407.1Z" fill="url(#la2)"/>
<path d="M530.8 412.1Q538.3 413.0 541.0 405.9Q533.5 405.0 530.8 412.1Z" fill="url(#la3)"/>
<path d="M530.7 417.3Q538.2 417.9 540.5 410.8Q533.1 410.3 530.7 417.3Z" fill="url(#la2)"/>
<path d="M536.7 312.5Q540.2 320.3 548.6 322.3Q545.0 314.5 536.7 312.5Z" fill="url(#lb2)"/>
<path d="M538.4 317.7Q540.9 324.9 548.4 326.3Q545.9 319.1 538.4 317.7Z" fill="url(#lb3)"/>
<path d="M537.3 322.7Q539.3 331.4 548.2 332.2Q546.2 323.5 537.3 322.7Z" fill="url(#lb1)"/>
<path d="M537.0 327.4Q539.5 335.4 547.8 337.0Q545.2 329.0 537.0 327.4Z" fill="url(#lb1)"/>
<path d="M537.4 332.4Q539.6 340.4 547.7 342.2Q545.5 334.2 537.4 332.4Z" fill="url(#lb2)"/>
<path d="M538.5 337.5Q539.9 346.1 548.5 347.9Q547.1 339.2 538.5 337.5Z" fill="url(#lb1)"/>
<path d="M536.8 341.8Q539.9 349.8 548.2 351.9Q545.1 343.9 536.8 341.8Z" fill="url(#lb2)"/>
<path d="M538.4 345.9Q538.9 354.5 547.2 357.0Q546.6 348.4 538.4 345.9Z" fill="url(#lb2)"/>
<path d="M537.1 352.0Q539.4 360.0 547.4 362.3Q545.1 354.4 537.1 352.0Z" fill="url(#lb2)"/>
<path d="M538.3 357.3Q539.6 365.5 547.7 366.9Q546.4 358.7 538.3 357.3Z" fill="url(#lb1)"/>
<path d="M538.1 361.1Q538.9 369.3 546.9 371.4Q546.0 363.2 538.1 361.1Z" fill="url(#lb3)"/>
<path d="M537.1 365.9Q537.8 374.9 546.6 377.2Q545.8 368.2 537.1 365.9Z" fill="url(#lb2)"/>
<path d="M537.1 370.9Q538.8 379.5 547.0 382.4Q545.3 373.9 537.1 370.9Z" fill="url(#lb1)"/>
<path d="M536.7 376.7Q538.8 384.5 546.7 386.2Q544.5 378.5 536.7 376.7Z" fill="url(#lb1)"/>
<path d="M538.6 380.5Q539.3 388.7 547.1 391.2Q546.4 383.0 538.6 380.5Z" fill="url(#lb3)"/>
<path d="M536.9 385.3Q538.4 394.6 547.3 397.9Q545.8 388.6 536.9 385.3Z" fill="url(#lb2)"/>
<path d="M537.3 391.3Q539.4 400.1 547.9 403.2Q545.8 394.4 537.3 391.3Z" fill="url(#lb1)"/>
<path d="M537.6 396.6Q539.3 404.2 546.6 406.6Q545.0 399.0 537.6 396.6Z" fill="url(#lb1)"/>
<path d="M538.3 400.8Q539.1 409.2 546.6 413.1Q545.9 404.6 538.3 400.8Z" fill="url(#lb2)"/>
<path d="M536.8 406.1Q538.6 414.5 546.8 416.8Q545.1 408.4 536.8 406.1Z" fill="url(#lb3)"/>
<path d="M537.6 410.8Q538.4 419.3 546.6 421.4Q545.8 412.9 537.6 410.8Z" fill="url(#lb2)"/>
<path d="M543.2 321.1Q551.4 322.1 553.8 314.3Q545.6 313.2 543.2 321.1Z" fill="url(#la1)"/>
<path d="M544.1 326.2Q551.8 325.5 555.1 318.6Q547.4 319.3 544.1 326.2Z" fill="url(#la2)"/>
<path d="M544.4 332.0Q552.0 330.7 553.9 323.3Q546.3 324.6 544.4 332.0Z" fill="url(#la3)"/>
<path d="M545.1 336.2Q552.3 336.1 555.0 329.4Q547.8 329.6 545.1 336.2Z" fill="url(#la1)"/>
<path d="M545.0 341.4Q552.2 340.4 554.7 333.6Q547.5 334.6 545.0 341.4Z" fill="url(#la1)"/>
<path d="M543.7 346.4Q551.8 346.6 553.3 338.6Q545.2 338.4 543.7 346.4Z" fill="url(#la3)"/>
<path d="M544.6 350.9Q551.5 351.8 553.7 345.2Q546.8 344.2 544.6 350.9Z" fill="url(#la1)"/>
<path d="M544.7 357.0Q551.8 356.9 554.7 350.4Q547.6 350.5 544.7 357.0Z" fill="url(#la2)"/>
<path d="M543.8 361.7Q550.8 361.6 553.6 355.3Q546.7 355.4 543.8 361.7Z" fill="url(#la2)"/>
<path d="M543.3 365.9Q550.9 366.4 554.5 359.6Q546.9 359.2 543.3 365.9Z" fill="url(#la3)"/>
<path d="M544.2 371.2Q551.9 371.3 553.7 363.9Q546.0 363.8 544.2 371.2Z" fill="url(#la2)"/>
<path d="M543.1 375.9Q551.3 376.8 554.5 369.3Q546.3 368.4 543.1 375.9Z" fill="url(#la3)"/>
<path d="M543.5 380.7Q550.9 381.1 553.6 374.2Q546.3 373.9 543.5 380.7Z" fill="url(#la3)"/>
<path d="M543.8 385.3Q550.8 386.3 553.9 379.8Q546.9 378.9 543.8 385.3Z" fill="url(#la1)"/>
<path d="M544.6 391.8Q551.2 391.0 552.9 384.5Q546.2 385.3 544.6 391.8Z" fill="url(#la3)"/>
<path d="M543.1 397.2Q550.4 397.7 553.7 391.2Q546.4 390.7 543.1 397.2Z" fill="url(#la3)"/>
<path d="M544.4 402.0Q552.0 401.7 554.4 394.5Q546.8 394.8 544.4 402.0Z" fill="url(#la2)"/>
<path d="M544.6 406.8Q552.2 406.9 553.8 399.5Q546.2 399.3 544.6 406.8Z" fill="url(#la2)"/>
<path d="M544.6 410.3Q551.4 411.6 553.9 405.3Q547.2 403.9 544.6 410.3Z" fill="url(#la2)"/>
<path d="M543.8 416.3Q550.6 418.0 552.8 411.3Q546.0 409.6 543.8 416.3Z" fill="url(#la2)"/>
<path d="M543.6 421.1Q550.9 422.3 554.2 415.8Q547.0 414.6 543.6 421.1Z" fill="url(#la2)"/>
<polygon points="506.70,316.30 552.60,320.40 551.80,417.00 508.00,403.00" fill="url(#gBL)" stroke="none"/>
</g>
<g clip-path="url(#bcF)" stroke="#35261a" stroke-width="0.6">
<path d="M549.5 322.7Q560.8 321.9 566.5 312.1Q555.2 312.8 549.5 322.7Z" fill="url(#la3)"/>
<path d="M548.4 327.8Q560.1 327.4 567.0 317.9Q555.3 318.3 548.4 327.8Z" fill="url(#la3)"/>
<path d="M549.7 334.4Q561.3 334.2 567.8 324.7Q556.3 324.9 549.7 334.4Z" fill="url(#la2)"/>
<path d="M549.7 341.6Q561.9 340.3 566.5 329.0Q554.3 330.3 549.7 341.6Z" fill="url(#la1)"/>
<path d="M549.8 347.5Q561.0 345.9 567.2 336.6Q556.1 338.1 549.8 347.5Z" fill="url(#la1)"/>
<path d="M549.5 352.4Q561.5 351.7 567.8 341.4Q555.8 342.2 549.5 352.4Z" fill="url(#la1)"/>
<path d="M548.5 358.6Q560.9 357.3 567.4 346.6Q554.9 347.9 548.5 358.6Z" fill="url(#la2)"/>
<path d="M549.8 364.2Q561.9 363.5 567.0 352.5Q554.9 353.2 549.8 364.2Z" fill="url(#la2)"/>
<path d="M549.6 370.4Q560.7 368.2 566.7 358.5Q555.5 360.7 549.6 370.4Z" fill="url(#la1)"/>
<path d="M549.8 376.6Q561.4 375.5 566.5 365.1Q554.9 366.2 549.8 376.6Z" fill="url(#la2)"/>
<path d="M549.6 383.5Q562.4 382.1 567.7 370.3Q554.8 371.7 549.6 383.5Z" fill="url(#la1)"/>
<path d="M548.9 388.9Q561.1 388.3 567.7 378.1Q555.5 378.7 548.9 388.9Z" fill="url(#la1)"/>
<path d="M548.5 396.0Q561.3 395.2 567.1 383.8Q554.4 384.6 548.5 396.0Z" fill="url(#la2)"/>
<path d="M548.1 400.8Q560.8 399.3 567.2 388.3Q554.6 389.9 548.1 400.8Z" fill="url(#la3)"/>
<path d="M547.9 406.7Q560.4 405.4 567.5 395.1Q555.1 396.5 547.9 406.7Z" fill="url(#la1)"/>
<path d="M547.6 412.7Q560.1 412.2 566.0 401.3Q553.6 401.7 547.6 412.7Z" fill="url(#la1)"/>
<path d="M548.0 418.7Q560.2 417.4 566.1 406.5Q553.8 407.9 548.0 418.7Z" fill="url(#la2)"/>
<path d="M548.4 425.7Q561.3 423.8 567.4 412.4Q554.5 414.3 548.4 425.7Z" fill="url(#la2)"/>
<path d="M561.0 311.3Q566.1 322.1 578.1 322.2Q572.9 311.4 561.0 311.3Z" fill="url(#lb1)"/>
<path d="M561.3 317.9Q567.8 327.8 579.7 327.1Q573.1 317.2 561.3 317.9Z" fill="url(#lb1)"/>
<path d="M560.3 324.3Q567.0 333.6 578.5 332.9Q571.8 323.5 560.3 324.3Z" fill="url(#lb3)"/>
<path d="M560.4 330.4Q567.6 339.3 579.0 338.5Q571.8 329.6 560.4 330.4Z" fill="url(#lb2)"/>
<path d="M560.9 336.7Q567.8 344.8 578.4 344.5Q571.6 336.3 560.9 336.7Z" fill="url(#lb1)"/>
<path d="M559.9 342.2Q566.8 351.7 578.5 350.2Q571.6 340.7 559.9 342.2Z" fill="url(#lb3)"/>
<path d="M560.4 348.3Q567.1 358.1 578.8 356.3Q572.1 346.6 560.4 348.3Z" fill="url(#lb1)"/>
<path d="M560.9 353.2Q566.7 362.4 577.6 361.8Q571.8 352.6 560.9 353.2Z" fill="url(#lb1)"/>
<path d="M560.9 360.1Q567.2 370.4 579.3 369.3Q573.0 358.9 560.9 360.1Z" fill="url(#lb2)"/>
<path d="M560.4 365.3Q567.5 373.5 578.4 373.4Q571.2 365.2 560.4 365.3Z" fill="url(#lb2)"/>
<path d="M560.7 372.4Q567.8 381.4 579.1 380.1Q572.1 371.0 560.7 372.4Z" fill="url(#lb2)"/>
<path d="M560.1 377.1Q566.9 385.8 578.0 386.4Q571.2 377.6 560.1 377.1Z" fill="url(#lb2)"/>
<path d="M561.2 384.2Q567.5 393.6 578.7 392.5Q572.5 383.1 561.2 384.2Z" fill="url(#lb1)"/>
<path d="M560.8 389.0Q566.9 398.4 578.0 396.6Q571.9 387.2 560.8 389.0Z" fill="url(#lb2)"/>
<path d="M559.4 395.6Q566.2 405.4 578.1 404.4Q571.3 394.5 559.4 395.6Z" fill="url(#lb1)"/>
<path d="M559.8 401.7Q566.6 409.9 577.2 409.4Q570.4 401.3 559.8 401.7Z" fill="url(#lb1)"/>
<path d="M560.1 407.3Q566.7 416.2 577.6 414.6Q571.0 405.8 560.1 407.3Z" fill="url(#lb1)"/>
<path d="M559.2 413.1Q566.3 422.1 577.7 421.1Q570.6 412.2 559.2 413.1Z" fill="url(#lb2)"/>
<path d="M573.0 321.7Q583.9 320.6 589.8 311.3Q578.9 312.5 573.0 321.7Z" fill="url(#la1)"/>
<path d="M572.6 328.4Q584.3 326.4 591.3 316.8Q579.6 318.8 572.6 328.4Z" fill="url(#la3)"/>
<path d="M572.9 332.8Q584.4 332.0 590.8 322.5Q579.3 323.2 572.9 332.8Z" fill="url(#la1)"/>
<path d="M571.3 338.7Q583.1 339.2 589.9 329.5Q578.0 328.9 571.3 338.7Z" fill="url(#la3)"/>
<path d="M571.9 344.9Q583.7 344.6 589.6 334.4Q577.8 334.7 571.9 344.9Z" fill="url(#la1)"/>
<path d="M571.8 351.2Q584.2 351.6 590.5 340.9Q578.0 340.5 571.8 351.2Z" fill="url(#la2)"/>
<path d="M573.0 358.0Q584.1 356.1 589.3 346.1Q578.2 348.0 573.0 358.0Z" fill="url(#la3)"/>
<path d="M571.5 362.8Q583.4 361.6 589.9 351.6Q578.0 352.7 571.5 362.8Z" fill="url(#la3)"/>
<path d="M571.6 368.2Q583.0 366.9 589.6 357.5Q578.1 358.7 571.6 368.2Z" fill="url(#la2)"/>
<path d="M572.0 374.6Q583.7 372.8 589.3 362.4Q577.6 364.2 572.0 374.6Z" fill="url(#la2)"/>
<path d="M571.5 381.6Q584.1 380.2 589.9 369.0Q577.3 370.4 571.5 381.6Z" fill="url(#la2)"/>
<path d="M571.6 387.6Q583.9 386.4 588.8 374.9Q576.4 376.1 571.6 387.6Z" fill="url(#la2)"/>
<path d="M572.6 392.9Q585.0 391.2 590.4 379.9Q578.0 381.6 572.6 392.9Z" fill="url(#la2)"/>
<path d="M571.3 398.4Q582.9 396.5 589.7 386.8Q578.0 388.7 571.3 398.4Z" fill="url(#la1)"/>
<path d="M571.0 404.5Q583.6 403.6 590.2 392.9Q577.6 393.8 571.0 404.5Z" fill="url(#la1)"/>
<path d="M571.3 409.8Q584.2 408.7 589.9 397.0Q576.9 398.1 571.3 409.8Z" fill="url(#la2)"/>
<path d="M571.1 415.8Q583.6 414.9 590.1 404.2Q577.6 405.1 571.1 415.8Z" fill="url(#la2)"/>
<path d="M572.4 422.0Q583.8 419.0 589.2 408.5Q577.8 411.6 572.4 422.0Z" fill="url(#la1)"/>
<path d="M584.3 310.4Q590.7 320.6 602.8 321.1Q596.3 310.9 584.3 310.4Z" fill="url(#lb2)"/>
<path d="M584.6 317.2Q590.0 327.3 601.5 326.5Q596.1 316.4 584.6 317.2Z" fill="url(#lb1)"/>
<path d="M583.2 322.2Q590.1 332.1 602.1 331.3Q595.3 321.3 583.2 322.2Z" fill="url(#lb1)"/>
<path d="M584.4 328.7Q590.6 338.9 602.5 338.1Q596.3 328.0 584.4 328.7Z" fill="url(#lb2)"/>
<path d="M584.1 334.8Q590.3 343.3 600.8 342.6Q594.6 334.1 584.1 334.8Z" fill="url(#lb2)"/>
<path d="M582.9 341.2Q590.0 349.3 600.7 348.7Q593.7 340.6 582.9 341.2Z" fill="url(#lb3)"/>
<path d="M583.0 345.9Q589.2 356.3 601.3 355.5Q595.1 345.1 583.0 345.9Z" fill="url(#lb1)"/>
<path d="M583.9 353.0Q590.5 361.7 601.4 360.8Q594.8 352.1 583.9 353.0Z" fill="url(#lb1)"/>
<path d="M582.7 358.4Q589.7 366.8 600.7 366.3Q593.7 357.9 582.7 358.4Z" fill="url(#lb2)"/>
<path d="M584.1 364.1Q590.0 373.5 601.0 372.4Q595.1 363.0 584.1 364.1Z" fill="url(#lb2)"/>
<path d="M583.5 370.3Q590.1 379.0 600.9 377.7Q594.4 369.0 583.5 370.3Z" fill="url(#lb2)"/>
<path d="M583.0 375.8Q589.6 384.8 600.6 382.7Q594.0 373.8 583.0 375.8Z" fill="url(#lb2)"/>
<path d="M582.4 382.1Q590.5 389.9 601.6 388.4Q593.6 380.5 582.4 382.1Z" fill="url(#lb3)"/>
<path d="M583.1 387.3Q589.5 397.1 601.1 395.5Q594.7 385.7 583.1 387.3Z" fill="url(#lb1)"/>
<path d="M582.9 392.1Q589.1 401.5 600.3 400.5Q594.1 391.1 582.9 392.1Z" fill="url(#lb2)"/>
<path d="M583.8 397.7Q590.1 406.9 601.2 406.1Q594.9 396.9 583.8 397.7Z" fill="url(#lb3)"/>
<path d="M583.0 404.4Q590.6 412.6 601.7 411.4Q594.1 403.1 583.0 404.4Z" fill="url(#lb2)"/>
<path d="M583.5 409.7Q589.4 418.7 600.1 417.4Q594.2 408.4 583.5 409.7Z" fill="url(#lb1)"/>
<path d="M594.8 320.2Q606.1 320.6 612.9 311.6Q601.6 311.2 594.8 320.2Z" fill="url(#la1)"/>
<path d="M595.1 327.5Q607.8 326.9 613.9 315.8Q601.2 316.4 595.1 327.5Z" fill="url(#la2)"/>
<path d="M594.5 332.0Q606.3 332.5 612.7 322.6Q601.0 322.2 594.5 332.0Z" fill="url(#la2)"/>
<path d="M594.7 337.3Q606.5 336.5 613.3 327.0Q601.6 327.7 594.7 337.3Z" fill="url(#la2)"/>
<path d="M596.1 343.1Q607.2 343.2 613.0 333.7Q601.8 333.5 596.1 343.1Z" fill="url(#la2)"/>
<path d="M595.3 349.6Q607.4 349.1 613.6 338.7Q601.5 339.2 595.3 349.6Z" fill="url(#la1)"/>
<path d="M595.6 354.8Q606.5 354.5 612.2 345.1Q601.3 345.5 595.6 354.8Z" fill="url(#la3)"/>
<path d="M594.4 360.9Q606.8 361.1 612.8 350.3Q600.4 350.1 594.4 360.9Z" fill="url(#la3)"/>
<path d="M594.4 367.2Q607.1 365.6 613.7 354.6Q601.0 356.3 594.4 367.2Z" fill="url(#la3)"/>
<path d="M595.7 372.8Q606.5 371.2 612.0 361.9Q601.3 363.5 595.7 372.8Z" fill="url(#la3)"/>
<path d="M595.7 377.6Q606.7 376.0 612.5 366.4Q601.5 368.1 595.7 377.6Z" fill="url(#la3)"/>
<path d="M594.0 383.8Q606.2 384.0 612.0 373.1Q599.7 373.0 594.0 383.8Z" fill="url(#la1)"/>
<path d="M594.7 389.6Q607.1 388.2 613.0 377.1Q600.6 378.5 594.7 389.6Z" fill="url(#la3)"/>
<path d="M594.6 394.8Q606.6 393.7 613.0 383.4Q600.9 384.5 594.6 394.8Z" fill="url(#la3)"/>
<path d="M594.9 400.2Q606.4 399.2 613.4 390.0Q601.9 391.0 594.9 400.2Z" fill="url(#la1)"/>
<path d="M593.9 406.3Q606.1 404.8 611.9 394.1Q599.8 395.6 593.9 406.3Z" fill="url(#la2)"/>
<path d="M595.1 413.5Q606.8 411.3 611.4 400.4Q599.7 402.6 595.1 413.5Z" fill="url(#la1)"/>
<path d="M594.5 418.6Q607.0 416.3 613.1 405.2Q600.6 407.4 594.5 418.6Z" fill="url(#la3)"/>
<path d="M606.3 310.4Q612.8 320.1 624.5 320.7Q618.0 310.9 606.3 310.4Z" fill="url(#lb1)"/>
<path d="M607.7 316.8Q613.6 326.4 624.9 325.4Q618.9 315.8 607.7 316.8Z" fill="url(#lb1)"/>
<path d="M605.9 321.2Q612.7 331.8 625.4 331.7Q618.6 321.1 605.9 321.2Z" fill="url(#lb1)"/>
<path d="M606.6 327.2Q613.1 336.5 624.5 337.1Q617.9 327.8 606.6 327.2Z" fill="url(#lb2)"/>
<path d="M607.0 333.5Q613.2 342.6 624.3 342.2Q618.0 333.0 607.0 333.5Z" fill="url(#lb1)"/>
<path d="M607.6 338.9Q613.4 347.7 623.9 346.8Q618.1 338.0 607.6 338.9Z" fill="url(#lb1)"/>
<path d="M607.2 344.4Q613.2 353.2 623.9 353.2Q617.9 344.4 607.2 344.4Z" fill="url(#lb1)"/>
<path d="M606.7 350.5Q613.2 358.5 623.4 358.0Q617.0 350.1 606.7 350.5Z" fill="url(#lb3)"/>
<path d="M606.2 356.5Q613.2 365.6 624.6 364.5Q617.6 355.4 606.2 356.5Z" fill="url(#lb3)"/>
<path d="M606.8 361.7Q613.4 370.3 624.1 368.6Q617.5 359.9 606.8 361.7Z" fill="url(#lb1)"/>
<path d="M606.1 367.1Q613.3 376.3 624.9 376.0Q617.8 366.8 606.1 367.1Z" fill="url(#lb1)"/>
<path d="M606.1 373.3Q612.7 381.9 623.5 381.5Q616.9 373.0 606.1 373.3Z" fill="url(#lb1)"/>
<path d="M606.3 379.5Q612.2 389.0 623.1 387.0Q617.3 377.6 606.3 379.5Z" fill="url(#lb2)"/>
<path d="M606.1 384.1Q612.5 392.5 623.0 392.4Q616.7 384.0 606.1 384.1Z" fill="url(#lb1)"/>
<path d="M605.4 390.0Q612.6 397.8 623.3 396.8Q616.0 388.9 605.4 390.0Z" fill="url(#lb1)"/>
<path d="M605.3 396.1Q613.5 403.6 624.6 402.0Q616.3 394.5 605.3 396.1Z" fill="url(#lb1)"/>
<path d="M606.7 401.7Q613.9 409.8 624.5 408.1Q617.4 400.0 606.7 401.7Z" fill="url(#lb1)"/>
<path d="M606.7 406.2Q612.9 415.8 624.3 414.7Q618.1 405.1 606.7 406.2Z" fill="url(#lb1)"/>
<path d="M617.7 319.6Q629.8 319.4 636.8 309.5Q624.7 309.7 617.7 319.6Z" fill="url(#la1)"/>
<path d="M618.3 326.1Q630.3 325.2 636.0 314.6Q624.0 315.5 618.3 326.1Z" fill="url(#la3)"/>
<path d="M617.5 330.7Q629.5 331.2 636.9 321.7Q624.9 321.2 617.5 330.7Z" fill="url(#la1)"/>
<path d="M619.2 336.9Q630.8 336.8 635.6 326.3Q624.0 326.4 619.2 336.9Z" fill="url(#la1)"/>
<path d="M618.1 342.4Q629.9 341.3 636.9 331.7Q625.1 332.9 618.1 342.4Z" fill="url(#la3)"/>
<path d="M619.0 346.9Q630.1 345.9 636.7 337.0Q625.6 337.9 619.0 346.9Z" fill="url(#la2)"/>
<path d="M617.1 353.2Q628.9 352.5 636.7 343.6Q624.9 344.3 617.1 353.2Z" fill="url(#la1)"/>
<path d="M618.5 359.0Q630.0 357.6 636.3 348.1Q624.9 349.4 618.5 359.0Z" fill="url(#la2)"/>
<path d="M617.2 365.5Q629.3 364.6 635.6 354.3Q623.5 355.1 617.2 365.5Z" fill="url(#la1)"/>
<path d="M617.3 370.6Q629.4 369.1 635.2 358.3Q623.0 359.8 617.3 370.6Z" fill="url(#la2)"/>
<path d="M617.5 375.8Q630.0 375.2 635.7 364.1Q623.2 364.7 617.5 375.8Z" fill="url(#la3)"/>
<path d="M618.0 381.5Q630.0 380.5 636.4 370.2Q624.4 371.3 618.0 381.5Z" fill="url(#la1)"/>
<path d="M618.5 386.4Q629.4 385.3 634.9 375.8Q624.0 377.0 618.5 386.4Z" fill="url(#la3)"/>
<path d="M617.3 392.8Q629.4 391.8 635.2 381.1Q623.1 382.2 617.3 392.8Z" fill="url(#la3)"/>
<path d="M617.1 398.1Q629.1 397.3 635.4 387.1Q623.4 387.9 617.1 398.1Z" fill="url(#la1)"/>
<path d="M617.7 403.9Q629.9 402.9 635.1 391.7Q622.9 392.8 617.7 403.9Z" fill="url(#la2)"/>
<path d="M617.2 408.3Q629.2 407.6 635.2 397.1Q623.2 397.9 617.2 408.3Z" fill="url(#la3)"/>
<path d="M616.7 414.6Q628.2 413.1 634.3 403.2Q622.8 404.8 616.7 414.6Z" fill="url(#la1)"/>
<path d="M630.7 309.7Q637.4 319.0 648.8 318.8Q642.2 309.5 630.7 309.7Z" fill="url(#lb2)"/>
<path d="M629.2 314.8Q636.8 323.8 648.6 323.5Q641.0 314.5 629.2 314.8Z" fill="url(#lb3)"/>
<path d="M630.0 322.0Q636.9 330.9 648.1 329.9Q641.2 321.0 630.0 322.0Z" fill="url(#lb3)"/>
<path d="M630.9 327.5Q637.0 336.8 648.1 335.5Q641.9 326.2 630.9 327.5Z" fill="url(#lb2)"/>
<path d="M630.4 331.5Q637.2 340.2 648.2 339.9Q641.4 331.2 630.4 331.5Z" fill="url(#lb2)"/>
<path d="M630.6 337.9Q636.6 347.2 647.5 345.9Q641.5 336.7 630.6 337.9Z" fill="url(#lb1)"/>
<path d="M630.5 343.4Q636.5 351.6 646.6 351.3Q640.6 343.2 630.5 343.4Z" fill="url(#lb2)"/>
<path d="M630.3 348.2Q635.8 357.8 646.7 356.8Q641.3 347.2 630.3 348.2Z" fill="url(#lb2)"/>
<path d="M629.8 354.6Q636.7 363.0 647.6 361.6Q640.6 353.2 629.8 354.6Z" fill="url(#lb3)"/>
<path d="M630.0 360.4Q636.3 369.4 647.3 368.0Q640.9 358.9 630.0 360.4Z" fill="url(#lb2)"/>
<path d="M628.8 365.5Q635.2 374.4 646.1 373.3Q639.7 364.4 628.8 365.5Z" fill="url(#lb2)"/>
<path d="M628.7 370.8Q635.6 379.0 646.2 377.2Q639.3 369.0 628.7 370.8Z" fill="url(#lb1)"/>
<path d="M628.7 375.5Q635.4 385.3 647.2 383.6Q640.5 373.7 628.7 375.5Z" fill="url(#lb2)"/>
<path d="M628.7 380.7Q634.9 389.8 645.9 388.7Q639.7 379.6 628.7 380.7Z" fill="url(#lb2)"/>
<path d="M629.9 387.6Q636.3 395.8 646.4 393.5Q640.0 385.4 629.9 387.6Z" fill="url(#lb2)"/>
<path d="M628.0 391.8Q635.6 400.7 647.0 398.4Q639.5 389.5 628.0 391.8Z" fill="url(#lb2)"/>
<path d="M628.3 397.5Q635.7 405.6 646.7 404.2Q639.3 396.0 628.3 397.5Z" fill="url(#lb3)"/>
<path d="M628.4 404.5Q635.1 413.4 646.0 410.8Q639.3 401.8 628.4 404.5Z" fill="url(#lb1)"/>
<path d="M641.3 318.8Q653.3 319.7 659.1 309.3Q647.2 308.5 641.3 318.8Z" fill="url(#la3)"/>
<path d="M641.3 324.4Q653.2 325.0 659.4 314.9Q647.5 314.3 641.3 324.4Z" fill="url(#la1)"/>
<path d="M642.2 329.4Q653.3 330.1 659.5 320.9Q648.4 320.2 642.2 329.4Z" fill="url(#la3)"/>
<path d="M640.6 336.3Q653.5 335.8 659.6 324.6Q646.8 325.0 640.6 336.3Z" fill="url(#la1)"/>
<path d="M641.6 340.3Q653.4 340.8 659.8 330.8Q648.0 330.4 641.6 340.3Z" fill="url(#la3)"/>
<path d="M640.2 347.1Q652.7 345.4 660.1 335.2Q647.6 336.9 640.2 347.1Z" fill="url(#la2)"/>
<path d="M641.1 350.5Q652.9 351.4 659.0 341.3Q647.2 340.4 641.1 350.5Z" fill="url(#la1)"/>
<path d="M640.9 357.5Q652.2 356.5 658.5 347.0Q647.1 348.0 640.9 357.5Z" fill="url(#la2)"/>
<path d="M640.6 361.5Q652.6 361.2 659.0 351.2Q647.1 351.5 640.6 361.5Z" fill="url(#la3)"/>
<path d="M639.8 366.9Q651.4 366.0 658.6 356.9Q647.0 357.8 639.8 366.9Z" fill="url(#la2)"/>
<path d="M641.3 373.2Q653.6 372.9 658.9 361.9Q646.6 362.1 641.3 373.2Z" fill="url(#la1)"/>
<path d="M640.2 377.7Q652.3 377.8 659.3 368.0Q647.2 367.8 640.2 377.7Z" fill="url(#la1)"/>
<path d="M641.2 383.4Q652.3 381.8 657.6 372.0Q646.5 373.6 641.2 383.4Z" fill="url(#la2)"/>
<path d="M640.1 389.3Q652.3 388.3 658.3 377.7Q646.2 378.7 640.1 389.3Z" fill="url(#la1)"/>
<path d="M641.0 395.1Q652.5 394.2 657.5 383.9Q646.1 384.8 641.0 395.1Z" fill="url(#la2)"/>
<path d="M640.1 400.0Q652.5 400.1 659.0 389.6Q646.7 389.6 640.1 400.0Z" fill="url(#la3)"/>
<path d="M640.9 404.8Q652.4 403.8 657.6 393.4Q646.0 394.5 640.9 404.8Z" fill="url(#la2)"/>
<path d="M640.3 411.4Q651.9 409.6 657.9 399.6Q646.4 401.4 640.3 411.4Z" fill="url(#la3)"/>
<polygon points="552.60,320.40 656.30,316.60 654.80,401.60 551.80,417.00" fill="url(#gBF)" stroke="none"/>
</g>
<line x1="552.5" y1="320.4" x2="551.8" y2="417" stroke="#3b2b1f" stroke-width="1.5" opacity="0.55"/>
<polyline points="506.7,316.9 552.6,321 656.3,317.2" fill="none" stroke="#4a382a" stroke-width="1.6" opacity="0.5"/>
<polyline points="508,402.6 551.8,416.6 654.8,401.2" fill="none" stroke="#3b2b1f" stroke-width="1.4" opacity="0.55"/>
<rect x="546" y="313.9" width="23.5" height="4.2" rx="2" fill="#fdfdfd"/>
<rect x="595.5" y="319.6" width="11" height="13.6" rx="2.2" fill="#3a2a1f" opacity="0.62"/>
<rect x="598" y="322.6" width="6" height="7" rx="1.5" fill="#8a7359" opacity="0.55"/>
</g>
<use href="#bsk" y="164.5"/>

<g stroke="#111" stroke-width="1.3" fill="none">
<line x1="660.3" y1="316.7" x2="660.3" y2="401.6"/>
<line x1="657" y1="316.7" x2="663.6" y2="316.7"/>
<line x1="657" y1="401.6" x2="663.6" y2="401.6"/>
<line x1="556.8" y1="422.5" x2="657" y2="408"/>
<line x1="556.2" y1="419.3" x2="557.4" y2="425.7"/>
<line x1="656.4" y1="404.8" x2="657.6" y2="411.2"/>
<line x1="504" y1="408" x2="549.8" y2="422.5"/>
<line x1="505" y1="404.9" x2="503" y2="411.1"/>
<line x1="550.8" y1="419.4" x2="548.8" y2="425.6"/>
</g>
<g font-family="Liberation Sans, sans-serif" fill="#000" stroke="#fff" stroke-width="0.22">
<text transform="translate(667.9 335.2) rotate(90)" font-size="10.4" textLength="51.2" lengthAdjust="spacingAndGlyphs">28cm/11.02</text>
<text transform="translate(573.6 437.3) rotate(-6.5)" font-size="12.6" textLength="71.5" lengthAdjust="spacingAndGlyphs">33cm/12.99in</text>
<text transform="translate(495.8 423.3) rotate(16.5)" font-size="11.5" font-style="italic" textLength="52.5" lengthAdjust="spacingAndGlyphs">28cm/11.02</text>
</g>

</svg>
<div class="t" id="t1" style="left:502.4px;top:135.7px;letter-spacing:0.2px;">2 Wicker Baskets</div>
<div class="t" id="t2" style="left:501.9px;top:179.9px;letter-spacing:0.72px;">Included</div>
</body></html>
